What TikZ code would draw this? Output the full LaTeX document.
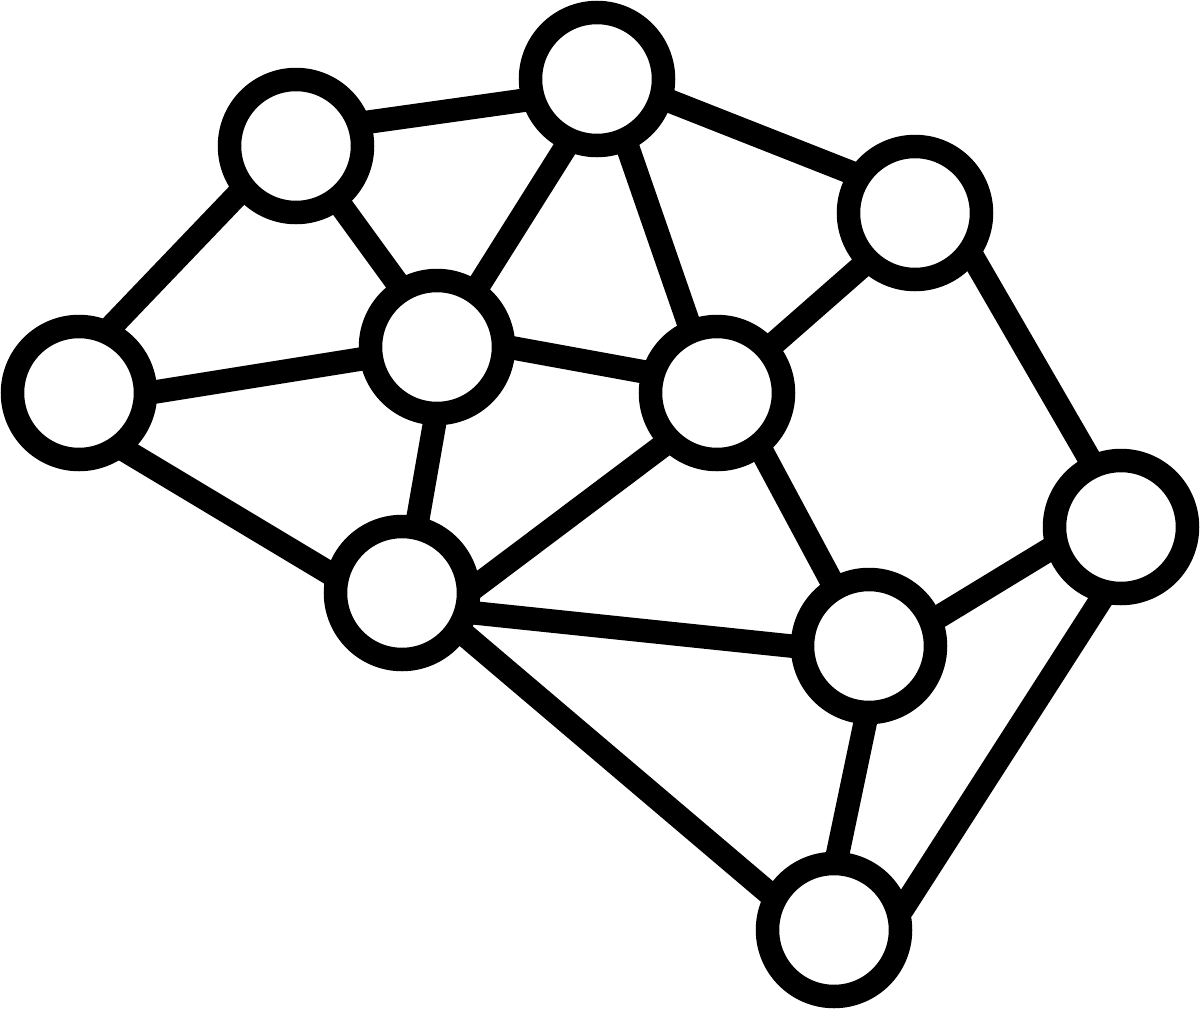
\documentclass[tikz,border=0pt]{standalone}
\usepackage{tikz}
\usetikzlibrary{backgrounds}

\tikzstyle{Vertex} = [draw=black,
                      fill=white,
                      circle,
                      line width=0.235cm,
                      inner sep=0pt,
                      minimum size=1.33cm]
\tikzstyle{Link} = [line width=0.235cm, draw=black,
                    shorten <=-0.1cm, shorten >=-0.1cm]

\begin{document}
\begin{tikzpicture}

	\useasboundingbox (0,0) rectangle (12,-10.1);

	% Vertex nodes
	\node(top) at (5.97, -0.79) [Vertex]{};
	\node(upleft) at (2.96, -1.46) [Vertex]{};
	\node(upright) at (9.15, -2.13) [Vertex]{};
	\node(left) at (0.79, -3.93) [Vertex]{};
	\node(center) at (4.37, -3.47) [Vertex]{};
	\node(midright) at (7.17, -3.93) [Vertex]{};
	\node(farright) at (11.21, -5.27) [Vertex]{};
	\node(lowmid) at (4.02, -5.93) [Vertex]{};
	\node(lowright) at (8.69, -6.46) [Vertex]{};
	\node(bottom) at (8.34, -9.30) [Vertex]{};

	% Lines
	\begin{pgfonlayer}{background}
	\draw [Link] (top.196.5) -- (upleft.18.4);
	\draw [Link] (top.-17.7) -- (upright.148.2);
	\draw [Link] (top.245) -- (center.56.3);
	\draw [Link] (top.-66.7) -- (midright.112.3);
	\draw [Link] (upleft.220.8) -- (left.63.1);
	\draw [Link] (upleft.-53.3) -- (center.122.5);
	\draw [Link] (left.1.5) -- (center.189);
	\draw [Link] (left.-50.8) -- (lowmid.164.6);
	\draw [Link] (center.-1.5) -- (midright.164.2);
	\draw [Link] (center.268.5) -- (lowmid.78.8);
	\draw [Link] (upright.225.5) -- (midright.41.3);
	\draw [Link] (upright.-39.8) -- (farright.115.6);
	\draw [Link] (midright.224.5) -- (lowmid.7.8);
	\draw [Link] (midright.-53.9) -- (lowright.120.8);
	\draw [Link] (lowmid.-15.8) -- (lowright.180.7);
	\draw [Link] (lowmid.-34.9) -- (bottom.150.8);
	\draw [Link] (farright.198) -- (lowright.23.3);
	\draw [Link] (farright.254.4) -- (bottom.21);
	\draw [Link] (lowright.267.8) -- (bottom.87.8);
	\end{pgfonlayer}

\end{tikzpicture}
\end{document}
